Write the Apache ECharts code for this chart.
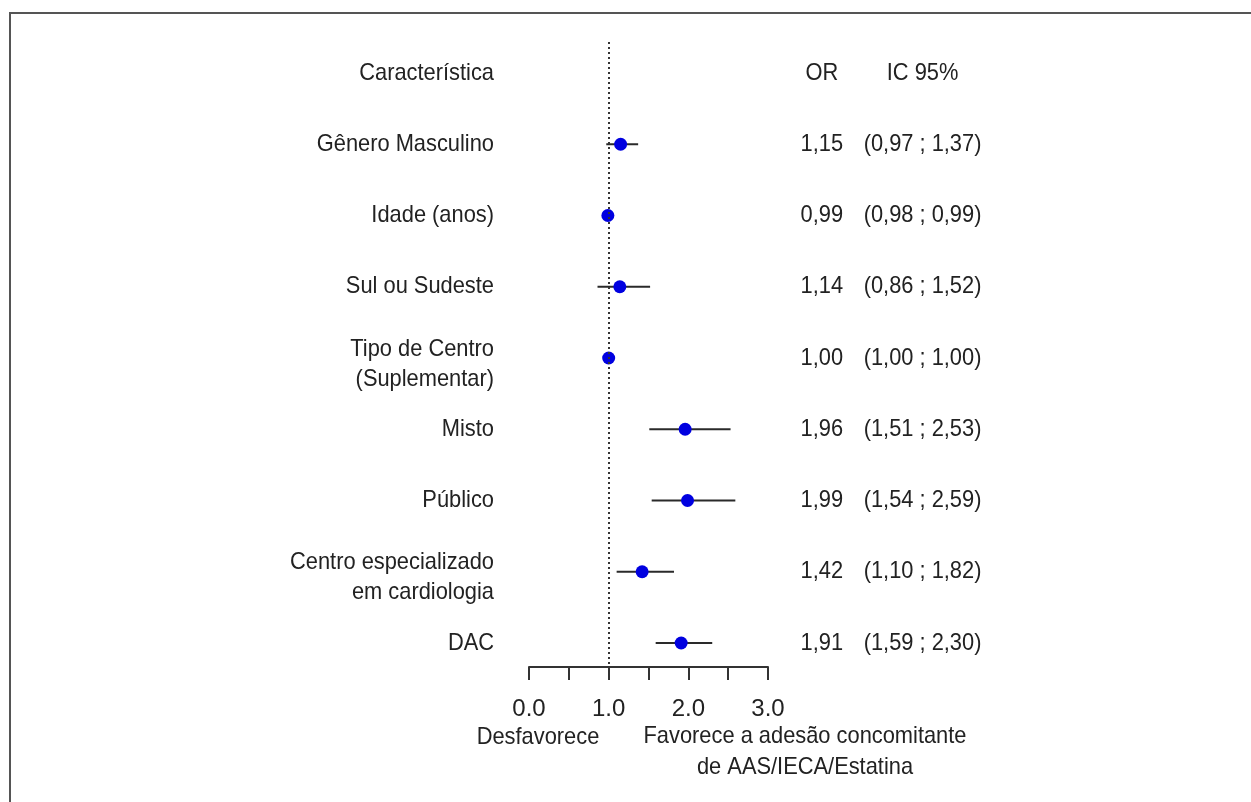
<!DOCTYPE html>
<html>
<head>
<meta charset="UTF-8">
<title>Forest plot</title>
<script src="https://cdn.jsdelivr.net/npm/echarts@6/dist/echarts.min.js"></script>
<style>
  html, body { margin: 0; padding: 0; background: #fff; }
  #main { width: 1251px; height: 802px; }
</style>
</head>
<body>
<div id="main"></div>
<script type="text/javascript">
// dados do gráfico
var rotulos = ['Gênero Masculino', 'Idade (anos)', 'Sul ou Sudeste', 'Tipo de Centro\n(Suplementar)',
  'Misto', 'Público', 'Centro especializado\nem cardiologia', 'DAC'];
var oddsRatio = [1.15, 0.99, 1.14, 1.00, 1.96, 1.99, 1.42, 1.91];
var icInf = [0.97, 0.98, 0.86, 1.00, 1.51, 1.54, 1.10, 1.59];
var icSup = [1.37, 0.99, 1.52, 1.00, 2.53, 2.59, 1.82, 2.30];
var ticksX = [0, 1, 2, 3];

var fonte = "'Liberation Sans', Arial, sans-serif";
var corTexto = '#222';
var estreito = 0.91;  // a fonte original é mais condensada
var colOR = 3.676;    // posição (em unidades do eixo) da coluna OR
var colIC = 4.94;     // posição da coluna IC 95%

function br(v) { return v.toFixed(2).replace('.', ','); }

var myChart = echarts.init(document.getElementById('main'));

// células de texto da tabela (coluna de rótulos, OR, IC)
var celulas = [
  { t: 'Característica', x: 0, y: 0, al: 'right' },
  { t: 'OR', x: colOR, y: 0, al: 'center' },
  { t: 'IC 95%', x: colIC, y: 0, al: 'center' }
];
var dadosPontos = [];
var dadosBarras = [];
for (var i = 0; i < rotulos.length; i++) {
  celulas.push({ t: rotulos[i], x: 0, y: i + 1, al: 'right' });
  celulas.push({ t: br(oddsRatio[i]), x: colOR, y: i + 1, al: 'center' });
  celulas.push({ t: '(' + br(icInf[i]) + ' ; ' + br(icSup[i]) + ')', x: colIC, y: i + 1, al: 'center' });
  dadosPontos.push([oddsRatio[i], i + 1]);
  dadosBarras.push([icInf[i], icSup[i], i + 1]);
}

option = {
  animation: false,
  backgroundColor: '#fff',
  grid: { left: 529, right: 483, top: 42, bottom: 135 },
  xAxis: {
    type: 'value',
    min: 0,
    max: 3,
    interval: 0.5,
    splitLine: { show: false },
    axisLine: { show: true, onZero: false, lineStyle: { color: '#333', width: 2 } },
    axisTick: { show: true, length: 13, lineStyle: { color: '#333', width: 2 } },
    axisLabel: {
      margin: 30,
      color: corTexto,
      fontFamily: fonte,
      fontSize: 24,
      showMinLabel: true,
      showMaxLabel: true,
      formatter: function (v) {
        return ticksX.indexOf(v) >= 0 ? v.toFixed(1) : '';
      }
    }
  },
  yAxis: {
    type: 'value',
    inverse: true,
    min: -0.435,
    max: 8.337,
    show: false
  },
  graphic: [
    {
      type: 'polyline',
      shape: { points: [[10, 802], [10, 13], [1251, 13]] },
      style: { stroke: '#555', lineWidth: 2, fill: null }
    },
    {
      type: 'text', x: 538, y: 737, scaleX: estreito,
      style: { text: 'Desfavorece', fill: corTexto, font: '24px ' + fonte, textAlign: 'center', textVerticalAlign: 'middle' }
    },
    {
      type: 'text', x: 805, y: 752, scaleX: estreito,
      style: {
        text: 'Favorece a adesão concomitante\nde AAS/IECA/Estatina', fill: corTexto,
        font: '24px ' + fonte, lineHeight: 31, textAlign: 'center', textVerticalAlign: 'middle'
      }
    }
  ],
  series: [
    {
      name: 'IC',
      type: 'custom',
      silent: true,
      data: dadosBarras,
      renderItem: function (params, api) {
        var a = api.coord([api.value(0), api.value(2)]);
        var b = api.coord([api.value(1), api.value(2)]);
        return {
          type: 'line',
          shape: { x1: a[0], y1: a[1], x2: b[0], y2: b[1] },
          style: { stroke: '#2a2a2a', lineWidth: 2 }
        };
      },
      markLine: {
        silent: true,
        symbol: 'none',
        label: { show: false },
        lineStyle: { type: [2, 3], color: '#333', width: 2, opacity: 1 },
        data: [{ xAxis: 1 }]
      },
      z: 2
    },
    {
      name: 'OR',
      type: 'scatter',
      silent: true,
      symbol: 'circle',
      symbolSize: 13,
      itemStyle: { color: '#0000e0', opacity: 1 },
      data: dadosPontos,
      z: 4
    },
    {
      name: 'tabela',
      type: 'custom',
      silent: true,
      clip: false,
      data: celulas.map(function (c) { return [c.x, c.y]; }),
      renderItem: function (params, api) {
        var c = celulas[params.dataIndex];
        var p = api.coord([api.value(0), api.value(1)]);
        var duas = c.t.indexOf('\n') >= 0;
        return {
          type: 'text',
          x: p[0] + (c.al === 'right' ? -35 : 0),
          y: p[1] + (duas ? 6 : 0),
          scaleX: estreito,
          style: {
            text: c.t,
            fill: corTexto,
            font: '24px ' + fonte,
            lineHeight: 30,
            textAlign: c.al,
            textVerticalAlign: 'middle'
          }
        };
      },
      z: 5
    }
  ]
};
myChart.setOption(option);
</script>
</body>
</html>
